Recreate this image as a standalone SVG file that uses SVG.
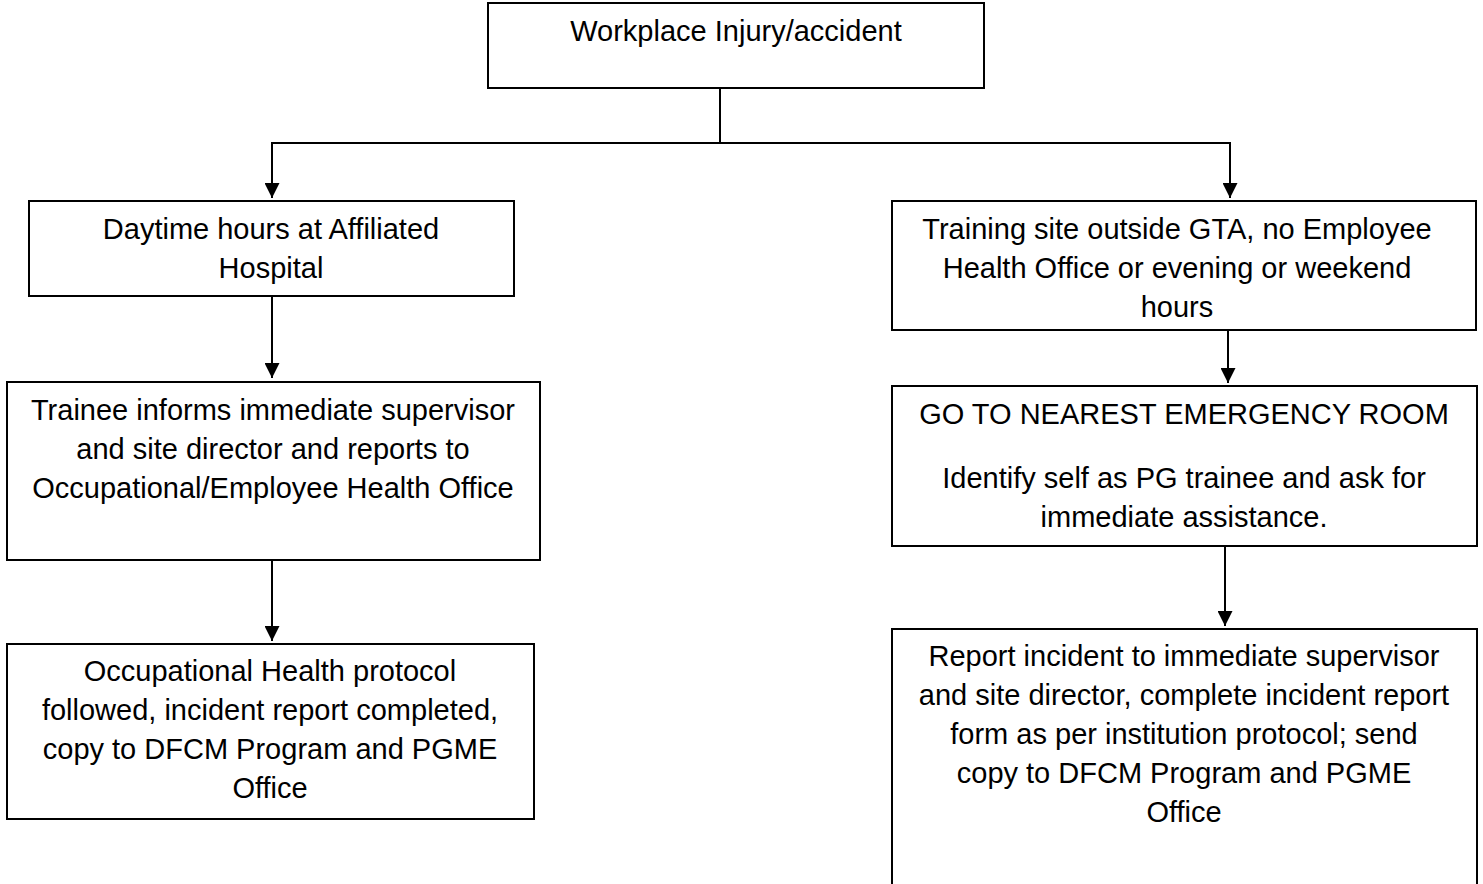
<svg xmlns="http://www.w3.org/2000/svg" width="1483" height="884" viewBox="0 0 1483 884">
<style>
.box{fill:#fff;stroke:#000;stroke-width:2}
.t{font-family:"Liberation Sans",Arial,sans-serif;font-size:29px;fill:#000;text-anchor:middle}
.c{fill:none;stroke:#000;stroke-width:2}
</style>
<defs>
<marker id="ah" viewBox="0 0 10 10" refX="10" refY="5" markerWidth="15" markerHeight="15" orient="auto" markerUnits="userSpaceOnUse">
<path d="M0,0 L10,5 L0,10 z" fill="#000"/>
</marker>
</defs>
<rect width="1483" height="884" fill="#fff"/>
<g id="n-top">
<rect class="box" x="488" y="3" width="496" height="85"/>
<text class="t" x="736" y="41">Workplace Injury/accident</text>
</g>
<g id="n-daytime">
<rect class="box" x="29" y="201" width="485" height="95"/>
<text class="t" x="271" y="239">Daytime hours at Affiliated</text>
<text class="t" x="271" y="278">Hospital</text>
</g>
<g id="n-trainee">
<rect class="box" x="7" y="382" width="533" height="178"/>
<text class="t" x="273" y="420">Trainee informs immediate supervisor</text>
<text class="t" x="273" y="459">and site director and reports to</text>
<text class="t" x="273" y="498">Occupational/Employee Health Office</text>
</g>
<g id="n-occ">
<rect class="box" x="7" y="644" width="527" height="175"/>
<text class="t" x="270" y="681">Occupational Health protocol</text>
<text class="t" x="270" y="720">followed, incident report completed,</text>
<text class="t" x="270" y="759">copy to DFCM Program and PGME</text>
<text class="t" x="270" y="798">Office</text>
</g>
<g id="n-training">
<rect class="box" x="892" y="201" width="584" height="129"/>
<text class="t" x="1177" y="239">Training site outside GTA, no Employee</text>
<text class="t" x="1177" y="278">Health Office or evening or weekend</text>
<text class="t" x="1177" y="317">hours</text>
</g>
<g id="n-er">
<rect class="box" x="892" y="386" width="585" height="160"/>
<text class="t" x="1184" y="424">GO TO NEAREST EMERGENCY ROOM</text>
<text class="t" x="1184" y="488">Identify self as PG trainee and ask for</text>
<text class="t" x="1184" y="527">immediate assistance.</text>
</g>
<g id="n-report">
<rect class="box" x="892" y="629" width="585" height="270"/>
<text class="t" x="1184" y="666">Report incident to immediate supervisor</text>
<text class="t" x="1184" y="705">and site director, complete incident report</text>
<text class="t" x="1184" y="744">form as per institution protocol; send</text>
<text class="t" x="1184" y="783">copy to DFCM Program and PGME</text>
<text class="t" x="1184" y="822">Office</text>
</g>
<g id="connectors">
<path class="c" d="M720,88 V143 M271,143 H1231"/>
<path class="c" d="M272,143 V198" marker-end="url(#ah)"/>
<path class="c" d="M1230,143 V198" marker-end="url(#ah)"/>
<path class="c" d="M272,296 V378" marker-end="url(#ah)"/>
<path class="c" d="M272,560 V641" marker-end="url(#ah)"/>
<path class="c" d="M1228,330 V383" marker-end="url(#ah)"/>
<path class="c" d="M1225,546 V626" marker-end="url(#ah)"/>
</g>
</svg>
